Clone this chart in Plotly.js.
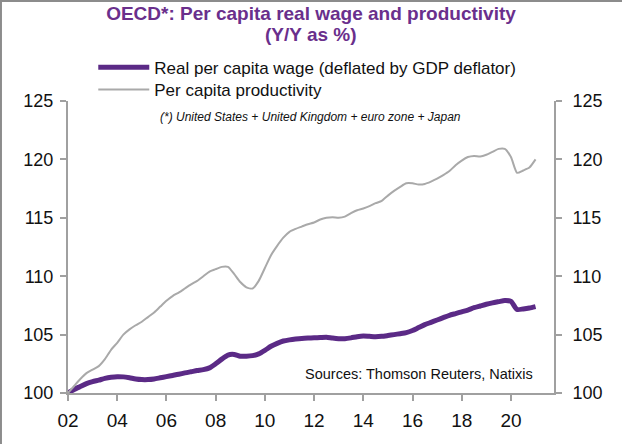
<!DOCTYPE html>
<html>
<head>
<meta charset="utf-8">
<script src="https://cdn.plot.ly/plotly-3.0.1.min.js"></script>
<style>html,body{margin:0;padding:0;background:#fff;}#chart{width:622px;height:444px;}</style>
</head>
<body>
<div id="chart"></div>
<script>
// Quarterly observations, 2002Q1 .. 2021Q1 (index, 2002 = 100)
const quarters = [
  2002.00,2002.25,2002.50,2002.75,2003.00,2003.25,2003.50,2003.75,
  2004.00,2004.25,2004.50,2004.75,2005.00,2005.25,2005.50,2005.75,
  2006.00,2006.25,2006.50,2006.75,2007.00,2007.25,2007.50,2007.75,
  2008.00,2008.25,2008.50,2008.75,2009.00,2009.25,2009.50,2009.75,
  2010.00,2010.25,2010.50,2010.75,2011.00,2011.25,2011.50,2011.75,
  2012.00,2012.25,2012.50,2012.75,2013.00,2013.25,2013.50,2013.75,
  2014.00,2014.25,2014.50,2014.75,2015.00,2015.25,2015.50,2015.75,
  2016.00,2016.25,2016.50,2016.75,2017.00,2017.25,2017.50,2017.75,
  2018.00,2018.25,2018.50,2018.75,2019.00,2019.25,2019.50,2019.75,
  2020.00,2020.25,2020.50,2020.75,2021.00
];
const realWage = [
  100.0,100.3,100.55,100.8,100.97,101.1,101.25,101.35,
  101.4,101.38,101.3,101.2,101.15,101.15,101.2,101.3,
  101.4,101.5,101.6,101.72,101.82,101.92,102.0,102.15,
  102.5,102.9,103.25,103.3,103.15,103.15,103.2,103.35,
  103.65,104.0,104.25,104.45,104.55,104.62,104.67,104.7,
  104.72,104.75,104.78,104.7,104.65,104.65,104.72,104.82,
  104.88,104.85,104.82,104.85,104.92,105.0,105.08,105.17,
  105.35,105.6,105.85,106.05,106.25,106.45,106.65,106.8,
  106.95,107.1,107.3,107.45,107.6,107.72,107.82,107.92,
  107.85,107.15,107.2,107.28,107.4
];
const productivity = [
  100.0,100.6,101.2,101.7,102.0,102.3,102.9,103.7,
  104.3,105.0,105.45,105.8,106.1,106.5,106.9,107.4,
  107.9,108.3,108.6,108.95,109.3,109.6,110.0,110.4,
  110.6,110.8,110.8,110.2,109.5,109.05,108.95,109.6,
  110.7,111.8,112.6,113.3,113.8,114.05,114.25,114.45,
  114.6,114.85,115.0,115.05,115.0,115.1,115.4,115.65,
  115.8,116.0,116.25,116.45,116.9,117.3,117.65,117.95,
  117.95,117.85,117.9,118.1,118.35,118.65,119.0,119.5,
  119.9,120.2,120.3,120.25,120.4,120.65,120.9,120.9,
  120.2,118.85,119.05,119.3,120.0
];
const xTickVals = [2002,2004,2006,2008,2010,2012,2014,2016,2018,2020];
const xTickText = ["02","04","06","08","10","12","14","16","18","20"];
const yTickVals = [100,105,110,115,120,125];
const seriesNames = ["Real per capita wage (deflated by GDP deflator)","Per capita productivity"];

const FONT = "Liberation Sans, Arial, sans-serif";
const AX = "#a0a0a0";
const TITLE_COLOR = "#6a2f8c";

const traces = [
  {x: quarters, y: realWage, name: seriesNames[0], type: "scatter", mode: "lines",
   line: {color: "#5b2a86", width: 5, shape: "spline", smoothing: 0.6}, yaxis: "y", legend: "legend"},
  {x: quarters, y: productivity, name: seriesNames[1], type: "scatter", mode: "lines",
   line: {color: "#a9a9a9", width: 2, shape: "spline", smoothing: 0.6}, yaxis: "y2", legend: "legend2"}
];

const yCommon = {
  range: [100, 125], tickvals: yTickVals, ticks: "outside", ticklen: 6, tickwidth: 2,
  tickcolor: AX, showline: true, linecolor: AX, linewidth: 2, showgrid: false, zeroline: false,
  tickfont: {family: FONT, size: 18, color: "#111"}, fixedrange: true
};
const legendCommon = {xanchor: "left", yanchor: "top", bgcolor: "rgba(0,0,0,0)",
  font: {family: FONT, size: 17, color: "#111"}, itemwidth: 51, tracegroupgap: 0};

const layout = {
  width: 622, height: 444,
  margin: {l: 68, r: 68, t: 101, b: 51, pad: 0},
  paper_bgcolor: "#fff", plot_bgcolor: "#fff",
  title: {text: "<b>OECD*: Per capita real wage and productivity</b>",
          font: {family: FONT, size: 19, color: TITLE_COLOR},
          x: 0.5, xanchor: "center", y: 0.97, yanchor: "middle", yref: "container"},
  xaxis: {range: [2002, 2021.75], tickvals: xTickVals, ticktext: xTickText, ticks: "outside",
          ticklen: 6, tickwidth: 2, tickcolor: AX, showline: true, linecolor: AX, linewidth: 2,
          showgrid: false, zeroline: false, ticklabelstandoff: 3,
          tickfont: {family: FONT, size: 19, color: "#111"}},
  yaxis: Object.assign({side: "left", ticklabelstandoff: 3}, yCommon),
  yaxis2: Object.assign({side: "right", overlaying: "y", ticklabelstandoff: 7}, yCommon),
  showlegend: true,
  legend: Object.assign({x: 0.052, y: 1.176}, legendCommon),
  legend2: Object.assign({x: 0.052, y: 1.0995}, legendCommon),
  annotations: [
    {text: "<b>(Y/Y as %)</b>", xref: "paper", yref: "paper", x: 0.5, y: 1.228,
     xanchor: "center", yanchor: "middle", showarrow: false,
     font: {family: FONT, size: 19, color: TITLE_COLOR}},
    {text: "<i>(*) United States + United Kingdom + euro zone + Japan</i>", xref: "paper", yref: "paper",
     x: 0.185, y: 0.945, xanchor: "left", yanchor: "middle", showarrow: false,
     font: {family: FONT, size: 12, color: "#111"}},
    {text: "Sources: Thomson Reuters, Natixis", xref: "paper", yref: "paper",
     x: 0.961, y: 0.065, xanchor: "right", yanchor: "middle", showarrow: false,
     font: {family: FONT, size: 14.5, color: "#111"}}
  ],
  shapes: [
    {type: "line", xref: "paper", yref: "paper", x0: -68/486 + 0.002, x1: -68/486 + 0.002, y0: -51/292, y1: 1 + 101/292,
     line: {color: "#8c8c8c", width: 2}},
    {type: "line", xref: "paper", yref: "paper", x0: -68/486, x1: 1 + 68/486, y0: 1 + 101/292 - 0.003, y1: 1 + 101/292 - 0.003,
     line: {color: "#8c8c8c", width: 2}}
  ]
};

Plotly.newPlot("chart", traces, layout, {displayModeBar: false, staticPlot: true});
</script>
</body>
</html>
